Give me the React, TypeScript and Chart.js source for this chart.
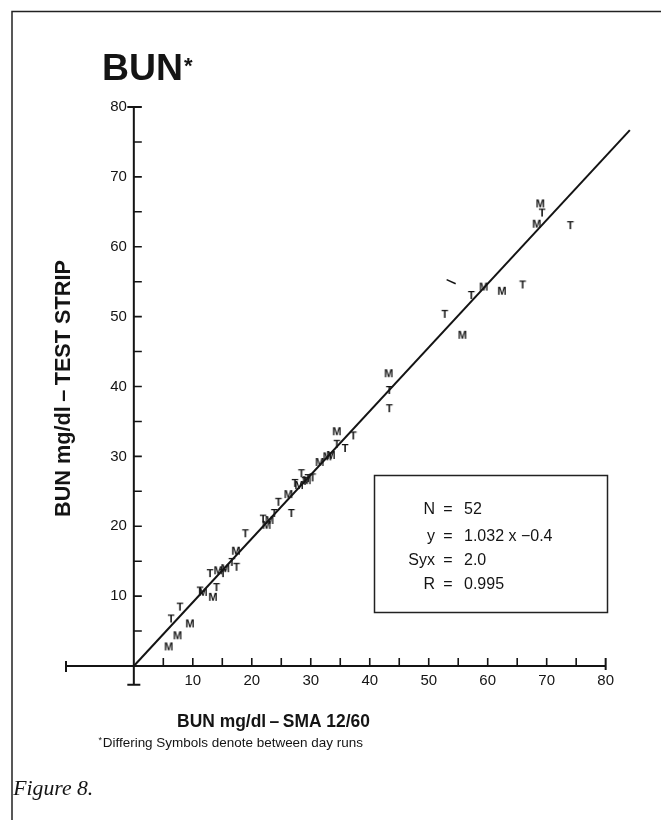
import React, { useEffect, useRef } from 'react';
import { Chart, registerables } from 'chart.js';

Chart.register(...registerables);

const SANS = '"Liberation Sans", Arial, Helvetica, sans-serif';
const SERIF = '"Liberation Serif", "Times New Roman", serif';
const INK = '#141414';

// "T" symbol runs
const runTX = [6.3, 7.8, 11.2, 12.9, 14.0, 15.1, 16.6, 17.4, 18.9, 21.9, 23.8, 24.5, 26.7, 27.3, 28.4, 29.0, 29.5, 30.3, 34.4, 35.8, 37.2, 43.3, 43.3, 52.7, 57.2, 65.9, 69.2, 74.0];
const runTY = [6.8, 8.5, 10.8, 13.3, 11.3, 13.3, 14.9, 14.2, 19.0, 21.1, 21.9, 23.5, 21.9, 26.2, 27.6, 26.5, 26.9, 27.0, 31.8, 31.2, 33.0, 39.5, 36.9, 50.4, 53.1, 54.6, 64.9, 63.1];

// "M" symbol runs
const runMX = [5.9, 7.4, 9.5, 11.7, 13.4, 14.3, 15.5, 17.3, 22.5, 23.0, 26.2, 28.0, 29.3, 31.5, 32.8, 33.4, 34.4, 43.2, 55.7, 59.3, 62.4, 68.3, 68.9];
const runMY = [2.8, 4.4, 6.1, 10.6, 9.9, 13.7, 14.0, 16.5, 20.2, 20.9, 24.6, 25.9, 26.6, 29.2, 30.0, 30.2, 33.6, 41.9, 47.4, 54.3, 53.7, 63.3, 66.2];

// odd stroke symbol
const oddX = [53.8];
const oddY = [55.0];

// regression line end points
const fitX = [0, 84.1];
const fitY = [0, 76.7];

// axes
const xTickValues = [5, 10, 15, 20, 25, 30, 35, 40, 45, 50, 55, 60, 65, 70, 75];
const xLabelValues = [10, 20, 30, 40, 50, 60, 70, 80];
const yTickValues = [5, 10, 15, 20, 25, 30, 35, 40, 45, 50, 55, 60, 65, 70, 75];
const yLabelValues = [10, 20, 30, 40, 50, 60, 70, 80];
const xAxisStart = -11.5;
const xAxisEnd = 80;
const yAxisStart = -2.7;
const yAxisEnd = 80;

// texts
const titleText = 'BUN';
const xTitle = 'BUN mg/dl\u2009\u2013\u2009SMA 12/60';
const yTitle = 'BUN mg/dl\u2009\u2013\u2009TEST STRIP';
const footnote = 'Differing Symbols denote between day runs';
const figureText = 'Figure 8.';
const statNames = ['N', 'y', 'Syx', 'R'];
const statValues = ['52', '1.032 x \u22120.4', '2.0', '0.995'];

function glyph(ch: string): HTMLCanvasElement {
  const c = document.createElement('canvas');
  c.width = 16;
  c.height = 16;
  const g = c.getContext('2d')!;
  g.font = `bold 11px ${SANS}`;
  g.textAlign = 'center';
  g.textBaseline = 'middle';
  g.fillStyle = INK;
  g.fillText(ch, 8, 8.5);
  return c;
}

function fitSize(ctx: CanvasRenderingContext2D, text: string, fontPrefix: string, family: string, target: number) {
  ctx.font = `${fontPrefix} 100px ${family}`;
  const w = ctx.measureText(text).width;
  return (100 * target) / w;
}

const decorPlugin = {
  id: 'decor',
  beforeDatasetsDraw(chart: any) {
    const ctx: CanvasRenderingContext2D = chart.ctx;
    const xs = chart.scales.x;
    const ys = chart.scales.y;
    const px = (v: number) => xs.getPixelForValue(v);
    const py = (v: number) => ys.getPixelForValue(v);
    ctx.save();
    ctx.strokeStyle = INK;
    ctx.lineWidth = 2;
    ctx.lineCap = 'butt';
    const x0 = px(0);
    const y0 = py(0);
    // x axis
    ctx.beginPath();
    ctx.moveTo(px(xAxisStart), y0);
    ctx.lineTo(px(xAxisEnd), y0);
    ctx.stroke();
    ctx.beginPath();
    ctx.moveTo(px(xAxisStart), y0 - 5);
    ctx.lineTo(px(xAxisStart), y0 + 6);
    ctx.moveTo(px(xAxisEnd), y0 - 8);
    ctx.lineTo(px(xAxisEnd), y0 + 4);
    ctx.stroke();
    ctx.lineWidth = 1.6;
    ctx.beginPath();
    xTickValues.forEach((v) => {
      ctx.moveTo(px(v), y0);
      ctx.lineTo(px(v), y0 - 8);
    });
    ctx.stroke();
    // y axis
    ctx.lineWidth = 2;
    ctx.beginPath();
    ctx.moveTo(x0, py(yAxisStart));
    ctx.lineTo(x0, py(yAxisEnd));
    ctx.stroke();
    ctx.beginPath();
    ctx.moveTo(x0 - 6.5, py(yAxisStart));
    ctx.lineTo(x0 + 6.5, py(yAxisStart));
    ctx.moveTo(x0 - 6.5, py(yAxisEnd));
    ctx.lineTo(x0 + 8, py(yAxisEnd));
    ctx.stroke();
    ctx.lineWidth = 1.6;
    ctx.beginPath();
    yTickValues.forEach((v) => {
      ctx.moveTo(x0, py(v));
      ctx.lineTo(x0 + 8, py(v));
    });
    ctx.stroke();
    // tick labels
    ctx.fillStyle = INK;
    ctx.font = `15px ${SANS}`;
    ctx.textAlign = 'center';
    ctx.textBaseline = 'middle';
    xLabelValues.forEach((v) => ctx.fillText(String(v), px(v), y0 + 15));
    ctx.textAlign = 'right';
    yLabelValues.forEach((v) => ctx.fillText(String(v), x0 - 7, py(v)));
    ctx.restore();
  },
  afterDraw(chart: any) {
    const ctx: CanvasRenderingContext2D = chart.ctx;
    ctx.save();
    ctx.fillStyle = INK;
    ctx.strokeStyle = '#222';
    // frame
    ctx.lineWidth = 1.5;
    ctx.beginPath();
    ctx.moveTo(12, 820);
    ctx.lineTo(12, 11.5);
    ctx.lineTo(661, 11.5);
    ctx.stroke();
    // title
    let s = fitSize(ctx, titleText, 'bold', SANS, 81);
    ctx.font = `bold ${s}px ${SANS}`;
    ctx.textAlign = 'left';
    ctx.textBaseline = 'alphabetic';
    ctx.fillText(titleText, 102, 80);
    ctx.font = `bold 22px ${SANS}`;
    ctx.fillText('*', 184, 73);
    // x title
    s = fitSize(ctx, xTitle, 'bold', SANS, 193);
    ctx.font = `bold ${s}px ${SANS}`;
    ctx.textAlign = 'center';
    ctx.fillText(xTitle, 273.5, 727);
    // y title
    s = fitSize(ctx, yTitle, 'bold', SANS, 257);
    ctx.save();
    ctx.translate(70, 388.5);
    ctx.rotate(-Math.PI / 2);
    ctx.font = `bold ${s}px ${SANS}`;
    ctx.textAlign = 'center';
    ctx.fillText(yTitle, 0, 0);
    ctx.restore();
    // footnote
    ctx.font = `9px ${SANS}`;
    ctx.textAlign = 'left';
    ctx.fillText('*', 98.5, 743);
    s = fitSize(ctx, footnote, '', SANS, 260.5);
    ctx.font = `${s}px ${SANS}`;
    ctx.fillText(footnote, 102.7, 746.7);
    // figure label
    s = fitSize(ctx, figureText, 'italic', SERIF, 80);
    ctx.font = `italic ${s}px ${SERIF}`;
    ctx.fillText(figureText, 13.3, 795);
    // stats box
    ctx.lineWidth = 1.5;
    ctx.strokeRect(374.5, 475.5, 233, 137);
    ctx.font = `16px ${SANS}`;
    const baselines = [513.5, 541, 565, 588.5];
    statNames.forEach((n, i) => {
      ctx.textAlign = 'right';
      ctx.fillText(n, 435, baselines[i]);
      ctx.textAlign = 'center';
      ctx.fillText('=', 448, baselines[i]);
      ctx.textAlign = 'left';
      ctx.fillText(statValues[i], 464, baselines[i]);
    });
    ctx.restore();
  },
};

export default function App() {
  const ref = useRef<HTMLCanvasElement | null>(null);
  useEffect(() => {
    if (!ref.current) return;
    const glyphT = glyph('T');
    const glyphM = glyph('M');
    const chart = new Chart(ref.current, {
      type: 'scatter',
      data: {
        datasets: [
          {
            type: 'line',
            label: 'fit',
            data: fitX.map((x, i) => ({ x, y: fitY[i] })),
            borderColor: INK,
            borderWidth: 2,
            pointRadius: 0,
            fill: false,
            clip: false,
          } as any,
          {
            label: 'T',
            data: runTX.map((x, i) => ({ x, y: runTY[i] })),
            pointStyle: glyphT,
            pointRadius: 6,
            clip: false,
          } as any,
          {
            label: 'M',
            data: runMX.map((x, i) => ({ x, y: runMY[i] })),
            pointStyle: glyphM,
            pointRadius: 6,
            clip: false,
          } as any,
          {
            label: 'other',
            data: oddX.map((x, i) => ({ x, y: oddY[i] })),
            pointStyle: 'line',
            pointRadius: 5,
            rotation: 25,
            borderColor: INK,
            borderWidth: 1.5,
            clip: false,
          } as any,
        ],
      },
      options: {
        responsive: false,
        animation: false,
        devicePixelRatio: 1,
        events: [],
        layout: { padding: { left: 66, right: 17, top: 107, bottom: 154 } },
        scales: {
          x: { type: 'linear', min: -11.5, max: 86.5, display: false },
          y: { type: 'linear', min: 0, max: 80, display: false },
        },
        plugins: {
          legend: { display: false },
          tooltip: { enabled: false },
          title: { display: false },
        },
      },
      plugins: [decorPlugin],
    });
    return () => chart.destroy();
  }, []);
  return (
    <div style={{ position: 'absolute', left: 0, top: 0, width: 661, height: 820, background: '#fff' }}>
      <canvas ref={ref} width={661} height={820} style={{ display: 'block' }} />
    </div>
  );
}
